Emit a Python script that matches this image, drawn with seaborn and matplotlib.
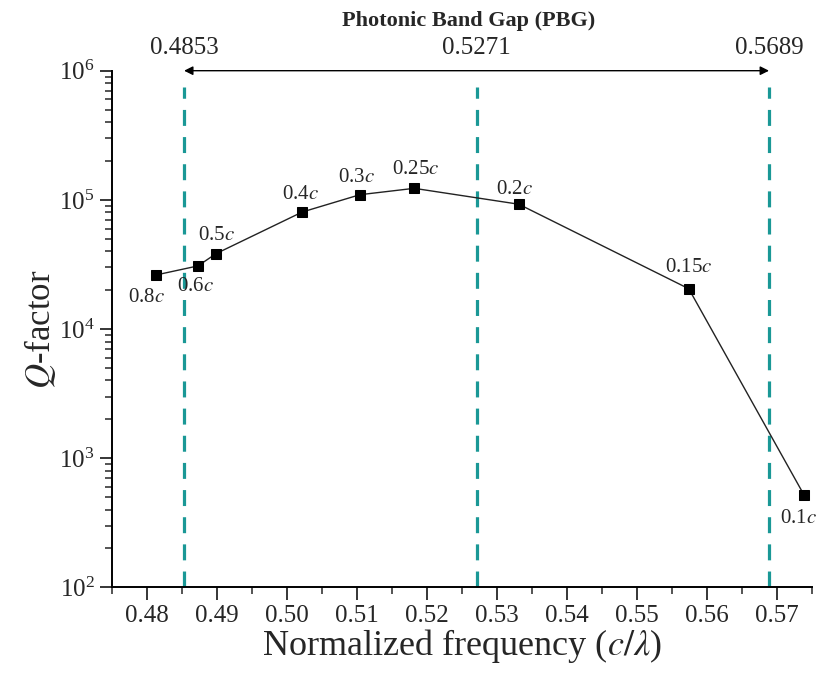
import matplotlib
matplotlib.use("Agg")
import matplotlib.pyplot as plt
import seaborn as sns
import numpy as np
import pandas as pd
from matplotlib.ticker import LogLocator, MultipleLocator, FixedLocator

# ---- data ----
freq = [0.48129, 0.48729, 0.48986, 0.50219, 0.51043, 0.51819, 0.53314, 0.55743, 0.57390]
qfactor = [26200, 30800, 38300, 80500, 109600, 122800, 92500, 20500, 519]
point_labels = ["0.8", "0.6", "0.5", "0.4", "0.3", "0.25", "0.2", "0.15", "0.1"]
label_offsets = [(-10, -23), (-3, -21), (1, 18), (-2, 18), (-3, 17), (2, 19), (-4, 15), (0, 21), (-6, -24)]
pbg_edges = [0.4853, 0.5271, 0.5689]
pbg_labels = ["0.4853", "0.5271", "0.5689"]
xticks = [0.48, 0.49, 0.50, 0.51, 0.52, 0.53, 0.54, 0.55, 0.56, 0.57]

sns.set_style("ticks")
plt.rcParams["font.family"] = ["Liberation Serif", "DejaVu Serif"]
plt.rcParams["mathtext.fontset"] = "stix"

fig = plt.figure(figsize=(8.2, 6.8), dpi=100)
ax = fig.add_axes([112 / 820, 1 - 587.3 / 680, (811.7 - 112) / 820, (587.3 - 70.7) / 680])

df = pd.DataFrame({"freq": freq, "Q": qfactor})
sns.lineplot(data=df, x="freq", y="Q", ax=ax, color="#222222", linewidth=1.0,
             marker="s", markersize=7.5, markerfacecolor="black", markeredgecolor="black",
             sort=False, zorder=4)

ax.set_yscale("log")
ax.set_xlim(0.475, 0.575)
ax.set_ylim(1e2, 1e6)

# dashed PBG lines
ax.vlines(pbg_edges, 1e2, 7.5e5, colors="#1a9896", linestyles=(0, (5, 3.5)), linewidth=2.3, zorder=2)

# arrow across the band gap
ax.annotate("", xy=(pbg_edges[0], 1e6), xytext=(pbg_edges[2], 1e6),
            xycoords="data", textcoords="data", annotation_clip=False,
            arrowprops=dict(arrowstyle="<|-|>", color="black", lw=1.0,
                            mutation_scale=13, shrinkA=0, shrinkB=0))
for xe, lab in zip(pbg_edges, pbg_labels):
    ax.annotate(lab, xy=(xe, 1e6), xytext=(0, 12), textcoords="offset pixels",
                ha="center", va="bottom", fontsize=18, annotation_clip=False)
ax.annotate("Photonic Band Gap (PBG)", xy=(0.526, 1e6), xytext=(0, 40), textcoords="offset pixels",
            ha="center", va="bottom", fontsize=16, fontweight="bold", annotation_clip=False)

# point labels
for xv, yv, lab, (dx, dy) in zip(freq, qfactor, point_labels, label_offsets):
    ax.annotate(lab + "$c$", xy=(xv, yv), xytext=(dx, dy), textcoords="offset pixels",
                ha="center", va="center", fontsize=15, zorder=5)

# axes styling
ax.xaxis.set_major_locator(FixedLocator(xticks))
ax.xaxis.set_minor_locator(MultipleLocator(0.005))
ax.set_xticklabels([f"{t:.2f}" for t in xticks])
ax.yaxis.set_major_locator(LogLocator(base=10, numticks=10))
ax.yaxis.set_minor_locator(LogLocator(base=10, subs=np.arange(2, 10), numticks=20))

ax.tick_params(axis="both", which="major", direction="out", length=9, width=1.3, labelsize=18)
ax.tick_params(axis="both", which="minor", direction="out", length=5, width=1.1)
for s in ["top", "right"]:
    ax.spines[s].set_visible(False)
for s in ["left", "bottom"]:
    ax.spines[s].set_linewidth(1.4)
    ax.spines[s].set_color("black")

ax.set_xlabel("Normalized frequency ($c/\\lambda$)", fontsize=26, labelpad=0)
ax.set_ylabel("$Q$-factor", fontsize=25, labelpad=1)

fig.savefig("out.png", dpi=100)
